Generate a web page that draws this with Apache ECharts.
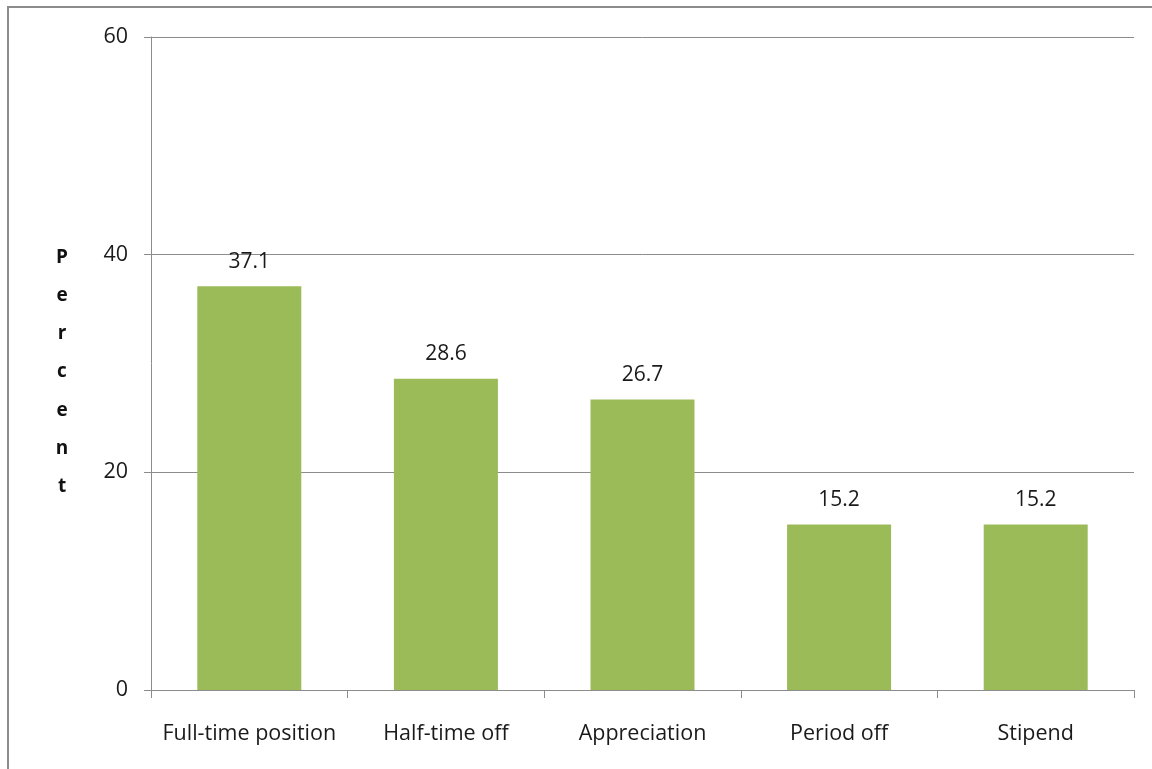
<!DOCTYPE html>
<html><head><meta charset="utf-8">
<script src="https://cdn.jsdelivr.net/npm/echarts@6/dist/echarts.min.js"></script>
<style>html,body{margin:0;padding:0;background:#fff}#c{width:1152px;height:769px}</style>
</head><body><div id="c"></div>
<script>
const categories = ['Full-time position', 'Half-time off', 'Appreciation', 'Period off', 'Stipend'];
const values = [37.1, 28.6, 26.7, 15.2, 15.2];
const yTicks = [0, 20, 40, 60];
const yName = 'Percent';

const chart = echarts.init(document.getElementById('c'));
const font = '"Open Sans", "Noto Sans", sans-serif';
chart.setOption({
  animation: false,
  grid: {left: 151, right: 18, top: 37, bottom: 79, containLabel: false},
  graphic: [
    {type: 'rect', shape: {x: 8, y: 7, width: 1200, height: 800}, style: {fill: 'none', stroke: '#8c8c8c', lineWidth: 2}, silent: true},
    {type: 'text', x: 62, y: 238, style: {text: yName.split('').join('\n'), font: 'bold 19px ' + font, lineHeight: 38.3, fill: '#111', align: 'center', verticalAlign: 'top'}}
  ],
  xAxis: {
    type: 'category', data: categories,
    axisLine: {lineStyle: {color: '#8c8c8c', width: 1}},
    axisTick: {show: true, interval: 0, length: 8, lineStyle: {color: '#8c8c8c'}},
    axisLabel: {interval: 0, color: '#1a1a1a', fontSize: 21.5, fontFamily: font, margin: 33}
  },
  yAxis: {
    type: 'value', min: yTicks[0], max: yTicks[yTicks.length - 1], interval: 20,
    axisLine: {show: true, lineStyle: {color: '#8c8c8c'}},
    axisTick: {show: true, length: 7, lineStyle: {color: '#8c8c8c'}},
    splitLine: {lineStyle: {color: '#8c8c8c', width: 1}},
    axisLabel: {color: '#1a1a1a', fontSize: 21.5, fontFamily: font, margin: 23}
  },
  series: [{
    type: 'bar', data: values, barWidth: 104,
    itemStyle: {color: '#9BBB59'},
    label: {show: true, position: 'top', distance: 14, color: '#1a1a1a', fontSize: 21, fontFamily: font}
  }]
});
</script></body></html>
